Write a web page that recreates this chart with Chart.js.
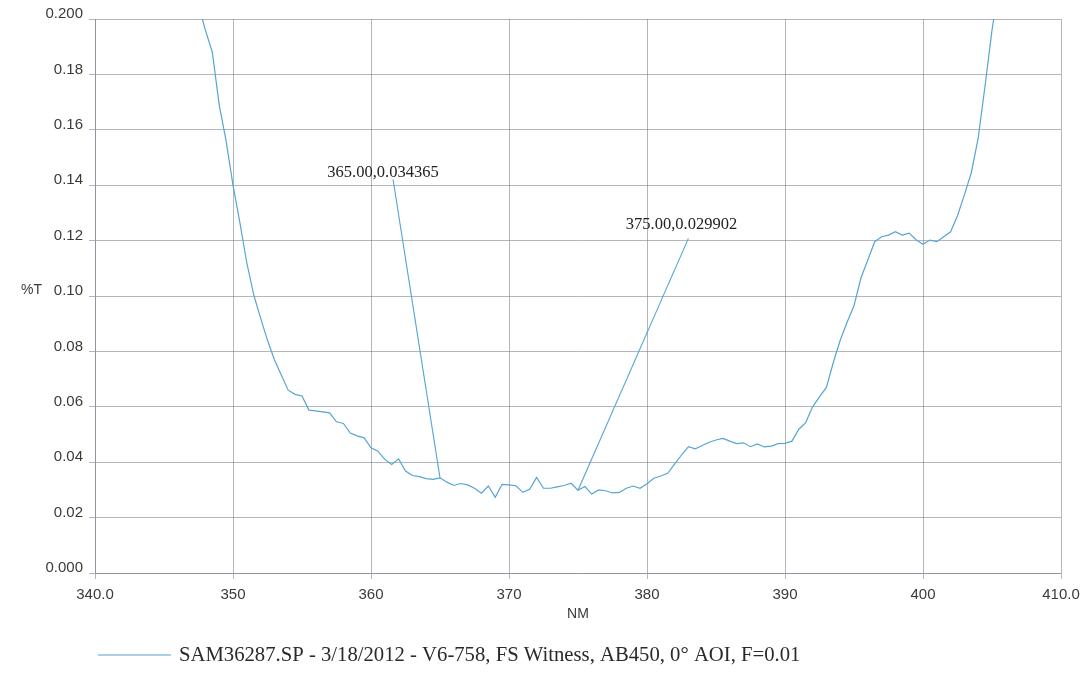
<!DOCTYPE html>
<html>
<head>
<meta charset="utf-8">
<title>SAM36287.SP transmission</title>
<script src="https://cdn.jsdelivr.net/npm/chart.js@4/dist/chart.umd.min.js"></script>
<style>
  html, body { margin: 0; padding: 0; background: #ffffff; }
  #wrap { position: relative; width: 1084px; height: 673px; }
</style>
</head>
<body>
<div id="wrap"><canvas id="spectrum" width="1084" height="673"></canvas></div>
<script>
// Wavelength samples (nm), 0.5 nm apart
const wavelengths = [
  347.5, 348.0, 348.5, 349.0, 349.5, 350.0, 350.5, 351.0, 351.5, 352.0,
  352.5, 353.0, 353.5, 354.0, 354.5, 355.0, 355.5, 356.0, 356.5, 357.0,
  357.5, 358.0, 358.5, 359.0, 359.5, 360.0, 360.5, 361.0, 361.5, 362.0,
  362.5, 363.0, 363.5, 364.0, 364.5, 365.0, 365.5, 366.0, 366.5, 367.0,
  367.5, 368.0, 368.5, 369.0, 369.5, 370.0, 370.5, 371.0, 371.5, 372.0,
  372.5, 373.0, 373.5, 374.0, 374.5, 375.0, 375.5, 376.0, 376.5, 377.0,
  377.5, 378.0, 378.5, 379.0, 379.5, 380.0, 380.5, 381.0, 381.5, 382.0,
  382.5, 383.0, 383.5, 384.0, 384.5, 385.0, 385.5, 386.0, 386.5, 387.0,
  387.5, 388.0, 388.5, 389.0, 389.5, 390.0, 390.5, 391.0, 391.5, 392.0,
  392.5, 393.0, 393.5, 394.0, 394.5, 395.0, 395.5, 396.0, 396.5, 397.0,
  397.5, 398.0, 398.5, 399.0, 399.5, 400.0, 400.5, 401.0, 401.5, 402.0,
  402.5, 403.0, 403.5, 404.0, 404.5, 405.0, 405.5
];

// Transmission (%T) at each wavelength
const transmission = [
  0.205, 0.196, 0.188, 0.169, 0.156, 0.140, 0.1265, 0.112, 0.1005, 0.092,
  0.084, 0.077, 0.0715, 0.066, 0.0645, 0.0639, 0.0588, 0.0585, 0.0582, 0.0578,
  0.0546, 0.054, 0.0505, 0.0495, 0.0488, 0.0452, 0.044, 0.041, 0.0392, 0.0412,
  0.0368, 0.0352, 0.0348, 0.0341, 0.0338, 0.034365, 0.0328, 0.0316, 0.0323, 0.0318,
  0.0306, 0.0288, 0.0314, 0.0273, 0.032, 0.0318, 0.0315, 0.0291, 0.0302, 0.0345,
  0.0306, 0.0306, 0.0311, 0.0316, 0.0324, 0.029902, 0.0312, 0.0285, 0.0300, 0.0297,
  0.0289, 0.0291, 0.0306, 0.0314, 0.0306, 0.0322, 0.0342, 0.0350, 0.0360, 0.0393,
  0.0426, 0.0456, 0.0448, 0.0460, 0.0472, 0.0480, 0.0486, 0.0476, 0.0467, 0.0470,
  0.0456, 0.0466, 0.0455, 0.0458, 0.0467, 0.0468, 0.0476, 0.0519, 0.0543, 0.060,
  0.0636, 0.0670, 0.076, 0.084, 0.0905, 0.0965, 0.1065, 0.113, 0.1196, 0.1214,
  0.122, 0.1232, 0.122, 0.1227, 0.1203, 0.1187, 0.1202, 0.1196, 0.1214, 0.1232,
  0.129, 0.1365, 0.1445, 0.157, 0.176, 0.196, 0.212
];

// Axis tick labels
const xTickLabels = ['340.0', '350', '360', '370', '380', '390', '400', '410.0'];
const yTickLabels = ['0.000', '0.02', '0.04', '0.06', '0.08', '0.10', '0.12', '0.14', '0.16', '0.18', '0.200'];

// Wavelengths carrying a cursor readout
const markedWavelengths = [365.0, 375.0];

const seriesName = 'SAM36287.SP - 3/18/2012 - V6-758, FS Witness, AB450, 0\u00B0 AOI, F=0.01';

const lineColor = '#55a6d2';
const gridColor = 'rgba(120,120,135,0.55)';
const textColor = '#3a3a3a';

const points = wavelengths.map((w, i) => ({ x: w, y: transmission[i] }));

// Readout labels: where each callout text sits, in axis units
const readoutPlacement = [
  { labelX: 360.87, labelY: 0.1444, leaderX: 361.6, leaderY: 0.1420 },
  { labelX: 382.5, labelY: 0.1256, leaderX: 383.0, leaderY: 0.1208 }
];

const readoutPlugin = {
  id: 'readouts',
  afterDatasetsDraw(chart) {
    const { ctx, scales: { x, y } } = chart;
    ctx.save();
    markedWavelengths.forEach((w, k) => {
      const idx = wavelengths.indexOf(w);
      const v = transmission[idx];
      const place = readoutPlacement[k];
      const px = x.getPixelForValue(w);
      const py = y.getPixelForValue(v);
      ctx.strokeStyle = lineColor;
      ctx.lineWidth = 1.1;
      ctx.beginPath();
      ctx.moveTo(x.getPixelForValue(place.leaderX), y.getPixelForValue(place.leaderY));
      ctx.lineTo(px, py);
      ctx.stroke();
      ctx.fillStyle = '#222222';
      ctx.font = '16.5px "Liberation Serif", "Times New Roman", serif';
      ctx.textAlign = 'center';
      ctx.textBaseline = 'middle';
      const text = w.toFixed(2) + ',' + v.toFixed(6);
      ctx.fillText(text, x.getPixelForValue(place.labelX), y.getPixelForValue(place.labelY));
    });
    ctx.restore();
  }
};

// Horizontal y-axis caption and the series key beneath the chart
const captionPlugin = {
  id: 'captions',
  afterDraw(chart) {
    const { ctx, scales: { y } } = chart;
    ctx.save();
    ctx.fillStyle = textColor;
    ctx.font = '14px "Liberation Sans", Arial, sans-serif';
    ctx.textAlign = 'left';
    ctx.textBaseline = 'middle';
    ctx.fillText('%T', 21, y.getPixelForValue(0.1) - 6);

    const keyY = 655;
    ctx.strokeStyle = lineColor;
    ctx.lineWidth = 1.2;
    ctx.beginPath();
    ctx.moveTo(98, keyY);
    ctx.lineTo(171, keyY);
    ctx.stroke();
    ctx.fillStyle = '#2a2a2a';
    ctx.font = '20.7px "Liberation Serif", "Times New Roman", serif';
    ctx.fillText(seriesName, 179, keyY + 1);
    ctx.restore();
  }
};

new Chart(document.getElementById('spectrum'), {
  type: 'line',
  data: {
    datasets: [{
      label: seriesName,
      data: points,
      borderColor: lineColor,
      borderWidth: 1.2,
      pointRadius: 0,
      tension: 0,
      fill: false
    }]
  },
  options: {
    responsive: false,
    animation: false,
    devicePixelRatio: 1,
    layout: { padding: { top: 19, right: 23, bottom: 48, left: 0 } },
    plugins: {
      legend: { display: false },
      tooltip: { enabled: false }
    },
    scales: {
      x: {
        type: 'linear',
        min: 340,
        max: 410,
        afterFit(scale) {
          scale.height = 52;
          // end labels may overhang; the outer padding already leaves room
          scale.paddingLeft = 0;
          scale.paddingRight = 0;
        },
        ticks: {
          stepSize: 10,
          padding: 7,
          color: textColor,
          font: { family: '"Liberation Sans", Arial, sans-serif', size: 15 },
          maxRotation: 0,
          callback: (value, index) => xTickLabels[index]
        },
        grid: { color: gridColor, lineWidth: 1, tickLength: 6 },
        border: { color: gridColor },
        title: {
          display: true,
          text: 'NM',
          color: textColor,
          font: { family: '"Liberation Sans", Arial, sans-serif', size: 14 },
          padding: { top: 3, bottom: 2 }
        }
      },
      y: {
        type: 'linear',
        min: 0,
        max: 0.2,
        afterFit(scale) { scale.width = 95; },
        ticks: {
          stepSize: 0.02,
          padding: 6,
          labelOffset: -5,
          color: textColor,
          font: { family: '"Liberation Sans", Arial, sans-serif', size: 15 },
          callback: (value, index) => yTickLabels[index]
        },
        grid: { color: gridColor, lineWidth: 1, tickLength: 6 },
        border: { color: gridColor }
      }
    }
  },
  plugins: [readoutPlugin, captionPlugin]
});
</script>
</body>
</html>
